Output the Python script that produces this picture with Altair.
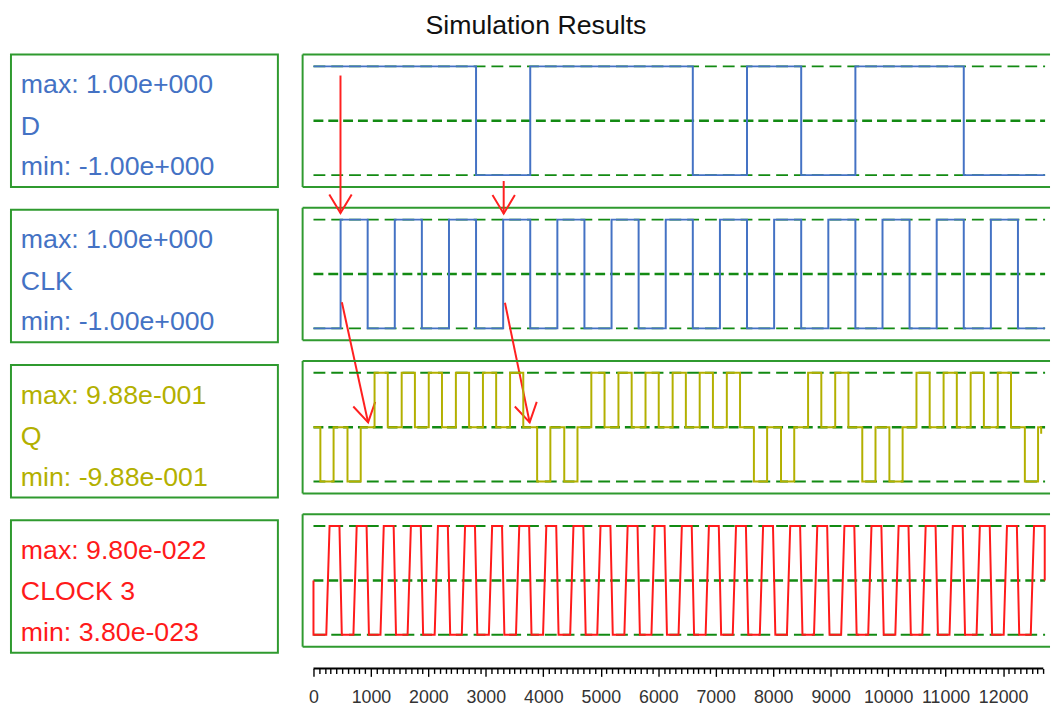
import altair as alt
import pandas as pd

# ---------------- data ----------------
SIGNALS = ["D", "CLK", "Q", "CLOCK 3"]
MAX_LABELS = ["max: 1.00e+000", "max: 1.00e+000", "max: 9.88e-001", "max: 9.80e-022"]
MIN_LABELS = ["min: -1.00e+000", "min: -1.00e+000", "min: -9.88e-001", "min: 3.80e-023"]
SIG_MAX = [1.0, 1.0, 0.988, 9.8e-22]
SIG_MIN = [-1.0, -1.0, -0.988, 3.8e-23]
COLORS = ["#4472c4", "#4472c4", "#b3b000", "#ff1a1a"]

T_END = 12731

# D: starts high, toggles at these times
D_START = 1.0
D_EDGES = [2829, 3772, 6601, 7544, 8487, 9430, 11316]

# CLK: starts low, toggles at these times
CLK_START = -1.0
CLK_EDGES = [472, 943, 1415, 1886, 2358, 2829, 3301, 3772, 4244, 4715, 5187, 5658,
             6130, 6601, 7073, 7544, 8016, 8487, 8959, 9430, 9902, 10373, 10845,
             11316, 11788, 12259]

# Q: pulses away from 0 (sign = +max / -max)
Q_PULSE_START = [120, 592, 1063, 1535, 2006, 2478, 2949, 3421, 3892, 4364, 4835, 5307,
                 5778, 6250, 6721, 7193, 7664, 8136, 8607, 9079, 9550, 10022, 10493,
                 10965, 11436, 11908, 12379]
Q_PULSE_END = [350, 822, 1293, 1765, 2236, 2708, 3179, 3651, 4122, 4594, 5065, 5537,
               6008, 6480, 6951, 7423, 7894, 8366, 8837, 9309, 9780, 10252, 10723,
               11195, 11666, 12138, 12609]
Q_PULSE_SIGN = [-1, -1, 1, 1, 1, 1, 1, 1, -1, -1, 1, 1, 1, 1, 1, 1, -1, -1, 1, 1,
                -1, -1, 1, 1, 1, 1, -1]
Q_TAIL_T = [12663, 12663]
Q_TAIL_V = [0.0, -0.12]

# CLOCK 3: trapezoid pulses
RED_MID = 5.09e-22
RED_RISE = [223, 695, 1166, 1638, 2109, 2581, 3052, 3524, 3995, 4467, 4938, 5410, 5881,
            6353, 6824, 7296, 7767, 8239, 8710, 9182, 9653, 10125, 10596, 11068, 11539,
            12011, 12482]
RED_TOP = [280, 752, 1223, 1695, 2166, 2638, 3109, 3581, 4052, 4524, 4995, 5467, 5938,
           6410, 6881, 7353, 7824, 8296, 8767, 9239, 9710, 10182, 10653, 11125, 11596,
           12068, 12539]
RED_FALL = [452, 924, 1395, 1867, 2338, 2810, 3281, 3753, 4224, 4696, 5167, 5639, 6110,
            6582, 7053, 7525, 7996, 8468, 8939, 9411, 9882, 10354, 10825, 11297, 11768,
            12240, 12725]
RED_LOW = [493, 965, 1436, 1908, 2379, 2851, 3322, 3794, 4265, 4737, 5208, 5680, 6151,
           6623, 7094, 7566, 8037, 8509, 8980, 9452, 9923, 10395, 10866, 11338, 11809,
           12281, 12725]

# red annotation arrows (time, value in CLK units)
ARROW_T0 = [470, 3310, 494, 3332]
ARROW_V0 = [3.65, 1.71, -0.52, -0.53]
ARROW_T1 = [470, 3310, 951, 3762]
ARROW_V1 = [1.12, 1.11, -2.73, -2.73]
ARROW_ANGLE = [0, 0, 348, 348]

AXIS_TICKS = list(range(0, 12701, 100))

# ---------------- build tables ----------------
def step_table(start, edges):
    ts, vs = [0], [start]
    cur = start
    for e in edges:
        ts += [e, e]
        vs += [cur, -cur]
        cur = -cur
    ts.append(T_END)
    vs.append(cur)
    return pd.DataFrame({"t": ts, "v": vs, "i": range(len(ts))})


d_df = step_table(D_START, D_EDGES)
clk_df = step_table(CLK_START, CLK_EDGES)

qt, qv = [0], [0.0]
for s, e, sg in zip(Q_PULSE_START, Q_PULSE_END, Q_PULSE_SIGN):
    lvl = sg * SIG_MAX[2]
    qt += [s, s, e, e]
    qv += [0.0, lvl, lvl, 0.0]
qt += Q_TAIL_T
qv += Q_TAIL_V
q_df = pd.DataFrame({"t": qt, "v": qv, "i": range(len(qt))})

rt, rv = [0, 0], [RED_MID, SIG_MIN[3]]
for k in range(len(RED_RISE)):
    last = k == len(RED_RISE) - 1
    rt += [RED_RISE[k], RED_TOP[k], RED_FALL[k], RED_LOW[k]]
    rv += [SIG_MIN[3], SIG_MAX[3], SIG_MAX[3], RED_MID if last else SIG_MIN[3]]
red_df = pd.DataFrame({"t": rt, "v": rv, "i": range(len(rt))})

arrows_df = pd.DataFrame({"t0": ARROW_T0, "v0": ARROW_V0, "t1": ARROW_T1,
                          "v1": ARROW_V1, "ang": ARROW_ANGLE})

# ---------------- styling ----------------
FONT = "Liberation Sans"
GREEN = "#2f9a2f"
DASH_GREEN = "#138a13"
ARROW_RED = "#ff2020"
W, H = 756, 134
LEFT_W = 270
X_DOMAIN = [-189, 12817]
XSCALE = alt.Scale(domain=X_DOMAIN, nice=False, zero=False)
V_PATH = "M -0.515 -0.857 L 0 0 L 0.515 -0.857"
one = pd.DataFrame({"a": [0]})


def xq(field):
    return alt.X(f"{field}:Q", scale=XSCALE, axis=None)


def signal_panel(i, df, with_arrows=False):
    lo, hi = SIG_MIN[i], SIG_MAX[i]
    pad = (hi - lo) * 12 / 110
    ys = alt.Scale(domain=[lo - pad, hi + pad], nice=False, zero=False)
    edges = pd.DataFrame({"t0": [0, 0], "t1": [T_END] * 2, "v": [hi, lo]})
    mid = pd.DataFrame({"t0": [0], "t1": [T_END], "v": [(hi + lo) / 2]})
    grid = alt.Chart(edges).mark_rule(color=DASH_GREEN, strokeWidth=2,
                                      strokeDash=[12, 6]).encode(
        x=xq("t0"), x2=alt.X2("t1"), y=alt.Y("v:Q", scale=ys, axis=None))
    gmid = alt.Chart(mid).mark_rule(color=DASH_GREEN, strokeWidth=2.4,
                                    strokeDash=[10, 5]).encode(
        x=xq("t0"), x2=alt.X2("t1"), y=alt.Y("v:Q", scale=ys, axis=None))
    line = alt.Chart(df).mark_line(color=COLORS[i], strokeWidth=2, clip=False).encode(
        x=xq("t"), y=alt.Y("v:Q", scale=ys, axis=None), order=alt.Order("i:Q"))
    base = alt.Chart(one)
    top = base.mark_rule(color=GREEN, strokeWidth=2).encode(
        x=alt.value(0), x2=alt.value(W), y=alt.value(0))
    bot = base.mark_rule(color=GREEN, strokeWidth=2).encode(
        x=alt.value(0), x2=alt.value(W), y=alt.value(H))
    left = base.mark_rule(color=GREEN, strokeWidth=2).encode(
        x=alt.value(0), y=alt.value(0), y2=alt.value(H))
    layers = [grid, gmid, line, top, bot, left]
    if with_arrows:
        shafts = alt.Chart(arrows_df).mark_rule(color=ARROW_RED, strokeWidth=2,
                                                clip=False).encode(
            x=xq("t0"), x2=alt.X2("t1"),
            y=alt.Y("v0:Q", scale=ys, axis=None), y2=alt.Y2("v1"))
        heads = alt.Chart(arrows_df).mark_point(shape=V_PATH, filled=False,
                                                color=ARROW_RED, strokeWidth=2,
                                                size=1936, opacity=1,
                                                clip=False).encode(
            x=xq("t1"), y=alt.Y("v1:Q", scale=ys, axis=None),
            angle=alt.Angle("ang:Q", scale=None))
        layers += [shafts, heads]
    return alt.layer(*layers).properties(
        width=W, height=H, view=alt.ViewBackground(stroke="transparent"))


def label_panel(i):
    df = pd.DataFrame({"mx": [MAX_LABELS[i]], "nm": [SIGNALS[i]], "mn": [MIN_LABELS[i]]})
    base = alt.Chart(df)
    layers = []
    for f, yy in [("mx", 39), ("nm", 81), ("mn", 122)]:
        layers.append(base.mark_text(align="left", baseline="alphabetic", fontSize=27,
                                     font=FONT, color=COLORS[i]).encode(
            x=alt.value(10), y=alt.value(yy), text=f"{f}:N"))
    return alt.layer(*layers).properties(width=LEFT_W, height=H)


axis_df = pd.DataFrame({"t0": [0], "t1": [AXIS_TICKS[-1]]})
axis_chart = alt.Chart(axis_df).mark_rule(color="black", strokeWidth=2).encode(
    x=alt.X("t0:Q", scale=XSCALE, title="",
            axis=alt.Axis(values=AXIS_TICKS, domain=False, grid=False, format="d",
                          tickColor="black", tickWidth=1.4,
                          tickSize={"condition": {"test": "datum.value % 1000 === 0",
                                                  "value": 8}, "value": 5},
                          labelExpr="datum.value % 1000 === 0 && datum.value <= 12000 ? datum.label : ''",
                          labelOverlap=False, labelFlush=False, labelFontSize=18,
                          labelFont=FONT, labelColor="#333333", labelPadding=12)),
    x2=alt.X2("t1"), y=alt.value(1)).properties(
    width=W, height=1, view=alt.ViewBackground(stroke="transparent"))

left_col = alt.vconcat(*[label_panel(i) for i in range(4)], spacing=21)
right_col = alt.vconcat(signal_panel(0, d_df), signal_panel(1, clk_df, with_arrows=True),
                        signal_panel(2, q_df), signal_panel(3, red_df), axis_chart,
                        spacing=21, bounds="flush")

chart = alt.hconcat(left_col, right_col, spacing=22).properties(
    title=alt.TitleParams("Simulation Results", anchor="middle", fontSize=27,
                          font=FONT, fontWeight="normal", color="#111111", offset=13,
                          dx=5),
    padding={"left": 2, "top": 0, "right": 0, "bottom": 2},
).configure(font=FONT).configure_view(stroke=GREEN, strokeWidth=2)

chart.save("out.html", embed_options={"renderer": "svg", "actions": False})
